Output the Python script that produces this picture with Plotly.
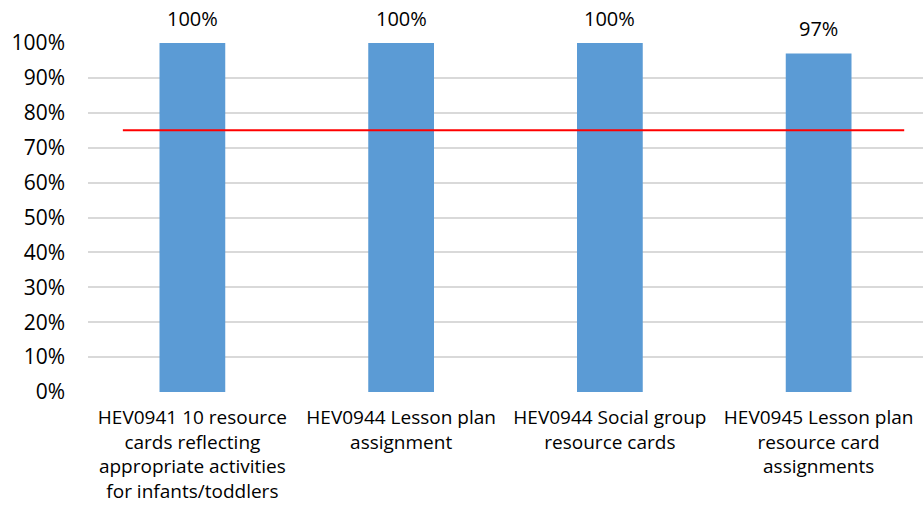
import plotly.graph_objects as go

categorias = [
    "HEV0941 10 resource<br>cards reflecting<br>appropriate activities<br>for infants/toddlers",
    "HEV0944 Lesson plan<br>assignment",
    "HEV0944 Social group<br>resource cards",
    "HEV0945 Lesson plan<br>resource card<br>assignments",
]
porcentajes = [100, 100, 100, 97]
meta = 75
ticks_y = [0, 10, 20, 30, 40, 50, 60, 70, 80, 90, 100]

FUENTE = "Open Sans"
AZUL = "#5b9bd5"

fig = go.Figure()

fig.add_trace(go.Bar(
    x=list(range(len(categorias))),
    y=porcentajes,
    marker=dict(color=AZUL, line=dict(width=0)),
    width=0.315,
    hoverinfo="skip",
))

for i, v in enumerate(porcentajes):
    fig.add_annotation(
        x=i, y=v, text=f"{v}%", showarrow=False,
        yanchor="bottom", yshift=9,
        font=dict(family=FUENTE, size=20, color="#000000"),
    )

fig.add_shape(
    type="line", xref="x", yref="y",
    x0=-0.333, x1=3.41, y0=meta, y1=meta,
    line=dict(color="#ff0000", width=2),
)

fig.update_layout(
    width=923,
    height=506,
    margin=dict(l=88, r=0, t=43, b=114),
    plot_bgcolor="white",
    paper_bgcolor="white",
    showlegend=False,
    font=dict(family=FUENTE, size=19, color="#000000"),
    xaxis=dict(
        range=[-0.5, 3.5],
        tickmode="array",
        tickvals=list(range(len(categorias))),
        ticktext=categorias,
        showgrid=False,
        zeroline=False,
        showline=False,
        ticks="",
        automargin=False,
        ticklabelstandoff=12,
        tickfont=dict(size=19),
    ),
    yaxis=dict(
        range=[0, 100],
        tickvals=ticks_y,
        ticktext=[f"{t}%" for t in ticks_y],
        showgrid=True,
        gridcolor="#d9d9d9",
        gridwidth=1.5,
        zeroline=False,
        showline=False,
        ticks="",
        automargin=False,
        ticklabelstandoff=22,
        tickfont=dict(size=21),
    ),
)

# quitar el margen por defecto del body para que el gráfico ocupe toda la ventana
fig.write_html(
    "out.html",
    config={"displayModeBar": False},
    post_script="document.body.style.margin='0';",
)
